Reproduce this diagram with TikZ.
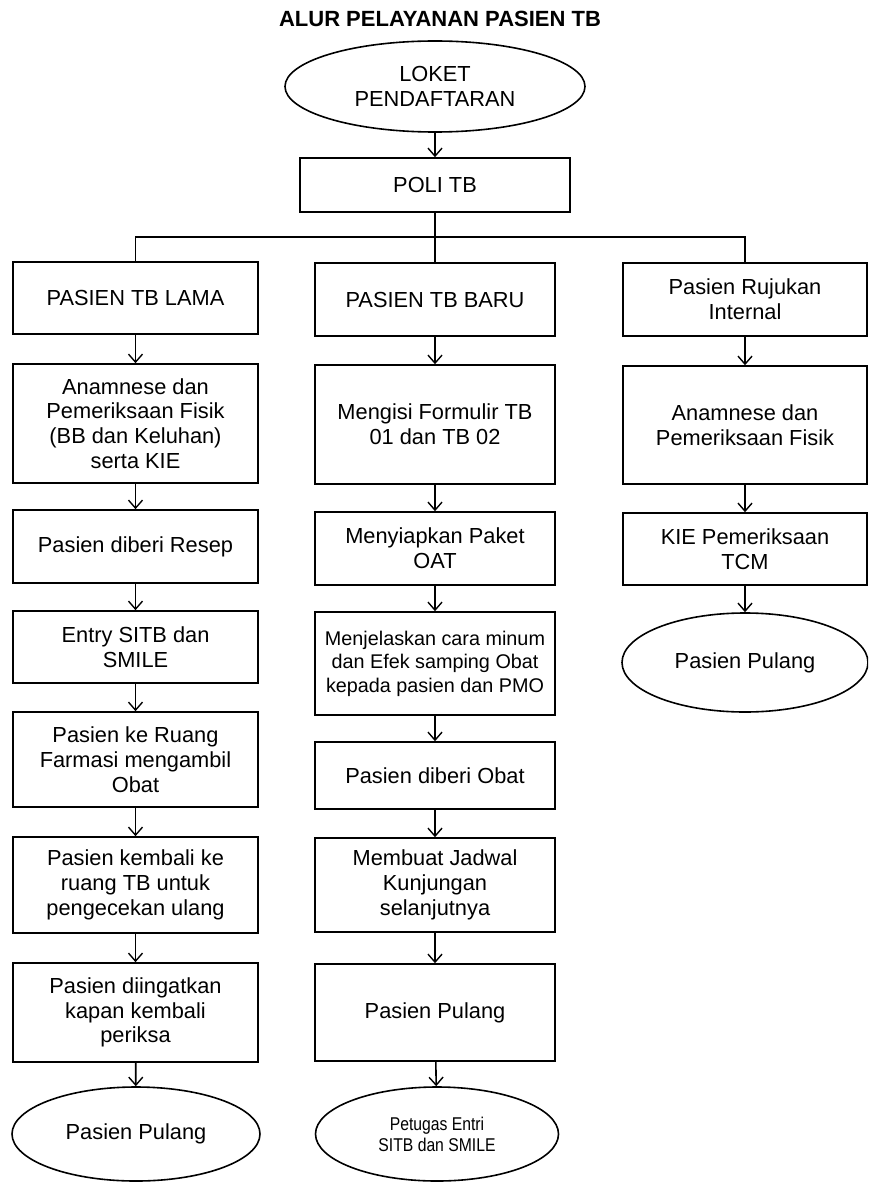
\documentclass[tikz,border=0pt]{standalone}
\usepackage{fontspec}
\setmainfont{Liberation Sans}
\newfontfamily\narrowsans[FakeStretch=0.85]{Liberation Sans}
\usetikzlibrary{shapes.geometric, arrows.meta}

\begin{document}
\begin{tikzpicture}[x=1pt, y=-1pt,
        box/.style = {draw, rectangle, line width=1.6pt, align=center, inner sep=0pt, font=\fontsize{21.8}{24.8}\selectfont},
        oval/.style = {draw, ellipse, line width=1.6pt, align=center, inner sep=0pt, font=\fontsize{21.8}{24.8}\selectfont},
        >={Straight Barb[length=8pt, width=14pt, line width=1.4pt]} ]
        \useasboundingbox (0,0) rectangle (868,1182);
        \clip (0,0) rectangle (868,1182);

        \node at (440,27) [anchor=base, font=\fontsize{22}{26}\selectfont\bfseries] (title) {ALUR PELAYANAN PASIEN TB};

        \node at (435,86.5) [oval, minimum width=300pt, minimum height=91pt] (t1) {LOKET\\PENDAFTARAN};
        \node at (435,185) [box, minimum width=270pt, minimum height=54pt] (t2) {POLI TB};

        % kolom kiri
        \node at (135.5,298) [box, minimum width=245pt, minimum height=72pt] (l1) {PASIEN TB LAMA};
        \node at (135.5,423.5) [box, minimum width=245pt, minimum height=119pt] (l2) {Anamnese dan\\Pemeriksaan Fisik\\(BB dan Keluhan)\\serta KIE};
        \node at (135.5,546.5) [box, minimum width=245pt, minimum height=73pt] (l3) {Pasien diberi Resep};
        \node at (135.5,647) [box, minimum width=245pt, minimum height=72pt] (l4) {Entry SITB dan\\SMILE};
        \node at (135.5,759.5) [box, minimum width=245pt, minimum height=95pt] (l5) {Pasien ke Ruang\\Farmasi mengambil\\Obat};
        \node at (135.5,885) [box, minimum width=245pt, minimum height=96pt] (l6) {Pasien kembali ke\\ruang TB untuk\\pengecekan ulang};
        \node at (135.5,1012.5) [box, minimum width=245pt, minimum height=99pt] (l7) {Pasien diingatkan\\kapan kembali\\periksa};
        \node at (136,1134) [oval, minimum width=248pt, minimum height=94pt] (l8) {Pasien Pulang};

        % kolom tengah
        \node at (435,299.5) [box, minimum width=240pt, minimum height=73pt] (m1) {PASIEN TB BARU};
        \node at (435,424.5) [box, minimum width=240pt, minimum height=119pt] (m2) {Mengisi Formulir TB\\01 dan TB 02};
        \node at (435,548.5) [box, minimum width=240pt, minimum height=73pt] (m3) {Menyiapkan Paket\\OAT};
        \node at (435,663.5) [box, minimum width=240pt, minimum height=103pt, font=\fontsize{19.8}{23.5}\selectfont] (m4) {Menjelaskan cara minum\\dan Efek samping Obat\\kepada pasien dan PMO};
        \node at (435,775.5) [box, minimum width=240pt, minimum height=67pt] (m5) {Pasien diberi Obat};
        \node at (435,885) [box, minimum width=240pt, minimum height=94pt] (m6) {Membuat Jadwal\\Kunjungan\\selanjutnya};
        \node at (435,1012.5) [box, minimum width=240pt, minimum height=97pt] (m7) {Pasien Pulang};
        \node at (437,1134) [oval, minimum width=243pt, minimum height=94pt, font=\narrowsans\fontsize{18.5}{21}\selectfont] (m8) {Petugas Entri\\SITB dan SMILE};

        % kolom kanan
        \node at (745,299.5) [box, minimum width=244pt, minimum height=73pt] (r1) {Pasien Rujukan\\Internal};
        \node at (745,425) [box, minimum width=244pt, minimum height=118pt] (r2) {Anamnese dan\\Pemeriksaan Fisik};
        \node at (745,549) [box, minimum width=244pt, minimum height=72pt] (r3) {KIE Pemeriksaan\\TCM};
        \node at (745,662.5) [oval, minimum width=246pt, minimum height=99pt] (r4) {Pasien Pulang};

        \coordinate (j) at (435,237);
        \draw[line width=1.6pt] (t2) -- (j) -- (m1);
        \draw[line width=1.6pt] (l1.north) |- (j) -| (r1.north);

        \path[->, draw, line width=1.6pt]
        (t1) edge (t2)
        (l1) edge (l2)
        (l2) edge (l3)
        (l3) edge (l4)
        (l4) edge (l5)
        (l5) edge (l6)
        (l6) edge (l7)
        (l7) edge (l8)
        (m1) edge (m2)
        (m2) edge (m3)
        (m3) edge (m4)
        (m4) edge (m5)
        (m5) edge (m6)
        (m6) edge (m7)
        (m7) edge (m8)
        (r1) edge (r2)
        (r2) edge (r3)
        (r3) edge (r4);
\end{tikzpicture}
\end{document}
